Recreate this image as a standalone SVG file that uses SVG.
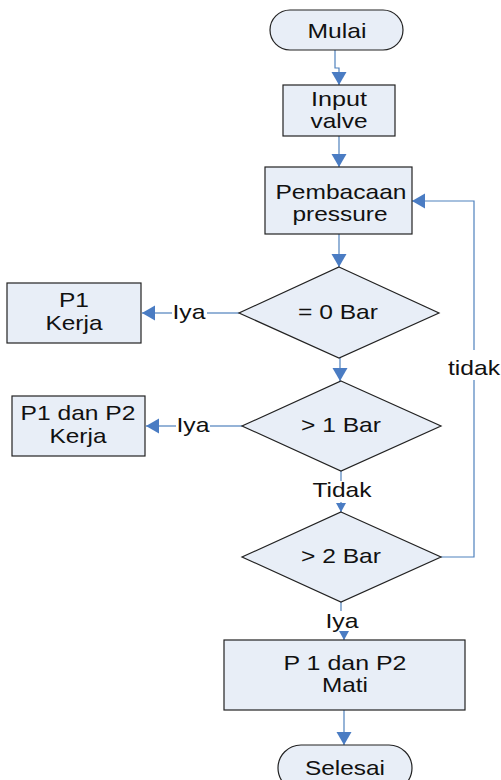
<svg xmlns="http://www.w3.org/2000/svg" width="501" height="780" viewBox="0 0 501 780">
<style>
.shape{fill:#E8EEF7;stroke:#222;stroke-width:1.2}
.conn{fill:none;stroke:#4F81BD;stroke-width:1.2}
.t{font-family:"Liberation Sans",Arial,sans-serif;font-size:21px;fill:#111;text-anchor:middle}
</style>
<defs>
<marker id="arr" markerUnits="userSpaceOnUse" markerWidth="14" markerHeight="16" refX="13" refY="7.5" orient="auto" viewBox="0 0 14 16">
<path d="M0,0 L13,7.5 L0,15 z" fill="#4A7CC3"/>
</marker>
<marker id="arrS" markerUnits="userSpaceOnUse" markerWidth="10" markerHeight="11" refX="9" refY="5" orient="auto" viewBox="0 0 10 11">
<path d="M0,0 L9,5 L0,10 z" fill="#4A7CC3"/>
</marker>
</defs>
<rect width="501" height="780" fill="#fff"/>
<g id="connectors">
<path class="conn" d="M335,50 V68 H339 V85" marker-end="url(#arr)"/>
<path class="conn" d="M339,136 V167" marker-end="url(#arr)"/>
<path class="conn" d="M339,234 V267" marker-end="url(#arr)"/>
<path class="conn" d="M239,313 H207"/>
<path class="conn" d="M172,313 H142" marker-end="url(#arr)"/>
<text class="t" x="189" y="319" textLength="33" lengthAdjust="spacingAndGlyphs">Iya</text>
<path class="conn" d="M340,358 V381" marker-end="url(#arr)"/>
<path class="conn" d="M242,426 H210"/>
<path class="conn" d="M176,426 H146" marker-end="url(#arr)"/>
<text class="t" x="193" y="432" textLength="33" lengthAdjust="spacingAndGlyphs">Iya</text>
<path class="conn" d="M341,471 V481"/>
<path class="conn" d="M341,502 V512" marker-end="url(#arrS)"/>
<text class="t" x="342" y="497" textLength="59" lengthAdjust="spacingAndGlyphs">Tidak</text>
<path class="conn" d="M441,557 H474 V380"/>
<path class="conn" d="M474,350 V201 H412" marker-end="url(#arr)"/>
<text class="t" x="474" y="375" textLength="52" lengthAdjust="spacingAndGlyphs">tidak</text>
<path class="conn" d="M341,602 V611"/>
<path class="conn" d="M344,632 V640" marker-end="url(#arrS)"/>
<text class="t" x="342" y="628" textLength="33" lengthAdjust="spacingAndGlyphs">Iya</text>
<path class="conn" d="M344,710 V745" marker-end="url(#arr)"/>
</g>
<g id="mulai">
<rect class="shape" x="270" y="10" width="133" height="40" rx="20" ry="20"/>
<text class="t" x="337" y="38" textLength="59" lengthAdjust="spacingAndGlyphs">Mulai</text>
</g>
<g id="input-valve">
<rect class="shape" x="283" y="85" width="112" height="51"/>
<text class="t" x="339" y="106" textLength="56" lengthAdjust="spacingAndGlyphs">Input</text>
<text class="t" x="339" y="128" textLength="57" lengthAdjust="spacingAndGlyphs">valve</text>
</g>
<g id="pembacaan">
<rect class="shape" x="265" y="167" width="147" height="67"/>
<text class="t" x="341" y="199" textLength="131" lengthAdjust="spacingAndGlyphs">Pembacaan</text>
<text class="t" x="340" y="221" textLength="95" lengthAdjust="spacingAndGlyphs">pressure</text>
</g>
<g id="d-0bar">
<polygon class="shape" points="339,267 439,313 339,358 239,313"/>
<text class="t" x="338" y="319" textLength="80" lengthAdjust="spacingAndGlyphs">= 0 Bar</text>
</g>
<g id="p1-kerja">
<rect class="shape" x="7" y="283" width="134" height="60"/>
<text class="t" x="74" y="307" textLength="30" lengthAdjust="spacingAndGlyphs">P1</text>
<text class="t" x="74" y="330" textLength="57" lengthAdjust="spacingAndGlyphs">Kerja</text>
</g>
<g id="d-1bar">
<polygon class="shape" points="341,381 441,426 341,471 242,426"/>
<text class="t" x="341" y="432" textLength="80" lengthAdjust="spacingAndGlyphs">&gt; 1 Bar</text>
</g>
<g id="p1p2-kerja">
<rect class="shape" x="12" y="396" width="133" height="60"/>
<text class="t" x="78" y="420" textLength="115" lengthAdjust="spacingAndGlyphs">P1 dan P2</text>
<text class="t" x="78" y="443" textLength="57" lengthAdjust="spacingAndGlyphs">Kerja</text>
</g>
<g id="d-2bar">
<polygon class="shape" points="341,512 441,557 341,602 242,557"/>
<text class="t" x="341" y="563" textLength="80" lengthAdjust="spacingAndGlyphs">&gt; 2 Bar</text>
</g>
<g id="p1p2-mati">
<rect class="shape" x="224" y="640" width="241" height="70"/>
<text class="t" x="345" y="670" textLength="123" lengthAdjust="spacingAndGlyphs">P 1 dan P2</text>
<text class="t" x="345" y="692" textLength="46" lengthAdjust="spacingAndGlyphs">Mati</text>
</g>
<g id="selesai">
<rect class="shape" x="278" y="745" width="134" height="46" rx="23" ry="23"/>
<text class="t" x="345" y="775" textLength="80" lengthAdjust="spacingAndGlyphs">Selesai</text>
</g>
</svg>
